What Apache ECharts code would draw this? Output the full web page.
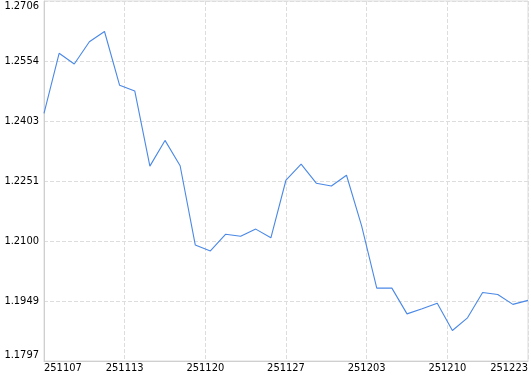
<!DOCTYPE html>
<html><head><meta charset="utf-8">
<script src="https://cdn.jsdelivr.net/npm/echarts@6/dist/echarts.min.js"></script>
<style>html,body{margin:0;padding:0;background:#fff}#c{width:530px;height:374px}</style>
</head><body><div id="c"></div>
<script>
// closing values, one per trading day (33 points)
const values = [
  1.2422, 1.2574, 1.2547, 1.2603, 1.2629, 1.2493, 1.2479, 1.2289, 1.2354, 1.2290,
  1.2090, 1.2075, 1.2117, 1.2112, 1.2130, 1.2108, 1.2254, 1.2294, 1.2246, 1.2239,
  1.2266, 1.2138, 1.1981, 1.1981, 1.1916, 1.1929, 1.1943, 1.1874, 1.1906, 1.1970,
  1.1965, 1.1940, 1.1950
];
const xTickLabels = ['251107', '251113', '251120', '251127', '251203', '251210', '251223'];
const yTickLabels = ['1.1797', '1.1949', '1.2100', '1.2251', '1.2403', '1.2554', '1.2706'];

const lastIdx = values.length - 1;
const nSeg = xTickLabels.length - 1;
const xTickPos = xTickLabels.map((_, i) => i * lastIdx / nSeg);
const yTickVals = yTickLabels.map(Number);

const font = 'DejaVu Sans Condensed, DejaVu Sans, sans-serif';
const chart = echarts.init(document.getElementById('c'), null, {renderer: 'canvas'});
chart.setOption({
  animation: false,
  backgroundColor: '#ffffff',
  grid: {left: 44, right: 2, top: 1, bottom: 13, show: true, borderColor: '#dddddd', borderWidth: 1,
         containLabel: false, outerBoundsMode: 'none'},
  xAxis: {
    type: 'value', min: 0, max: lastIdx,
    axisLine: {show: true, lineStyle: {color: '#cfcfcf', width: 1}},
    axisTick: {show: false, customValues: xTickPos},
    axisLabel: {
      customValues: xTickPos, color: '#000', fontFamily: font, fontSize: 11, margin: 2,
      alignMinLabel: 'left', alignMaxLabel: 'right', showMinLabel: true, showMaxLabel: true,
      formatter: v => xTickLabels[Math.round(v * nSeg / lastIdx)]
    },
    splitLine: {show: true, lineStyle: {color: '#dddddd', type: [4, 2], width: 1}}
  },
  yAxis: {
    type: 'value', min: yTickVals[0], max: yTickVals[yTickVals.length - 1], scale: true,
    axisLine: {show: true, lineStyle: {color: '#cfcfcf', width: 1}},
    axisTick: {show: false, customValues: yTickVals},
    axisLabel: {
      customValues: yTickVals, color: '#000', fontFamily: font, fontSize: 11, margin: 5,
      showMinLabel: true, showMaxLabel: true,
      verticalAlignMaxLabel: 'top', verticalAlignMinLabel: 'bottom',
      formatter: v => yTickLabels[yTickVals.indexOf(v)] !== undefined ? yTickLabels[yTickVals.indexOf(v)] : v.toFixed(4)
    },
    splitLine: {show: true, lineStyle: {color: '#dddddd', type: [4, 2], width: 1}}
  },
  series: [{
    type: 'line',
    data: values.map((v, i) => [i, v]),
    showSymbol: false,
    symbol: 'none',
    lineStyle: {color: '#4a88e6', width: 1.1},
    itemStyle: {color: '#4a88e6'}
  }]
});
</script>
</body></html>
